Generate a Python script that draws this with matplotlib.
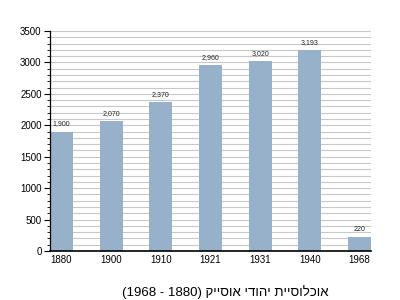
import matplotlib
matplotlib.use("Agg")
import matplotlib.pyplot as plt
from matplotlib.ticker import MultipleLocator

plt.rcParams['font.family'] = ['Liberation Sans', 'DejaVu Sans']

# data
years = ["1880", "1900", "1910", "1921", "1931", "1940", "1968"]
population = [1900, 2070, 2370, 2960, 3020, 3193, 220]
title_text = "אוכלוסיית יהודי אוסייק (1880 - 1968)"


def visual_rtl(text):
    # matplotlib draws glyphs left to right, so put the Hebrew in visual order
    head, _, tail = text.partition(" (")
    nums = tail.rstrip(")").split(" - ")
    return "(" + " - ".join(reversed(nums)) + ") " + head[::-1]


fig = plt.figure(figsize=(4, 3), dpi=100)
ax = fig.add_axes([0.125, 0.1633, 0.8025, 0.7334])

pos = list(range(len(years)))
width = 0.46
ax.bar(pos, population, width=width, color="#98b1cb", zorder=2)

for x, v in zip(pos, population):
    ax.annotate(f"{v:,}", (x, v), xytext=(0, 3), textcoords="offset points",
                ha="center", va="bottom", fontsize=5, color="#222222")

ax.set_xlim(-width / 2, len(years) - 1 + width / 2)
ax.set_ylim(0, 3500)
ax.set_xticks(pos)
ax.set_xticklabels(years)
ax.yaxis.set_major_locator(MultipleLocator(500))
ax.yaxis.set_minor_locator(MultipleLocator(100))
ax.grid(axis="y", which="both", color="#c8c8c8", linewidth=0.8, zorder=0)
ax.set_axisbelow(True)

ax.tick_params(axis="x", length=0, labelsize=7, pad=3)
ax.tick_params(axis="y", which="major", length=4, width=0.8, labelsize=7, pad=2)
ax.tick_params(axis="y", which="minor", length=2, width=0.6)

for s in ["top", "right"]:
    ax.spines[s].set_visible(False)
ax.spines["left"].set_linewidth(0.9)
ax.spines["bottom"].set_linewidth(1.2)

fig.text(0.5625, 0.027, visual_rtl(title_text), ha="center", va="center",
         fontsize=9.5)

fig.savefig("out.png", dpi=100)
